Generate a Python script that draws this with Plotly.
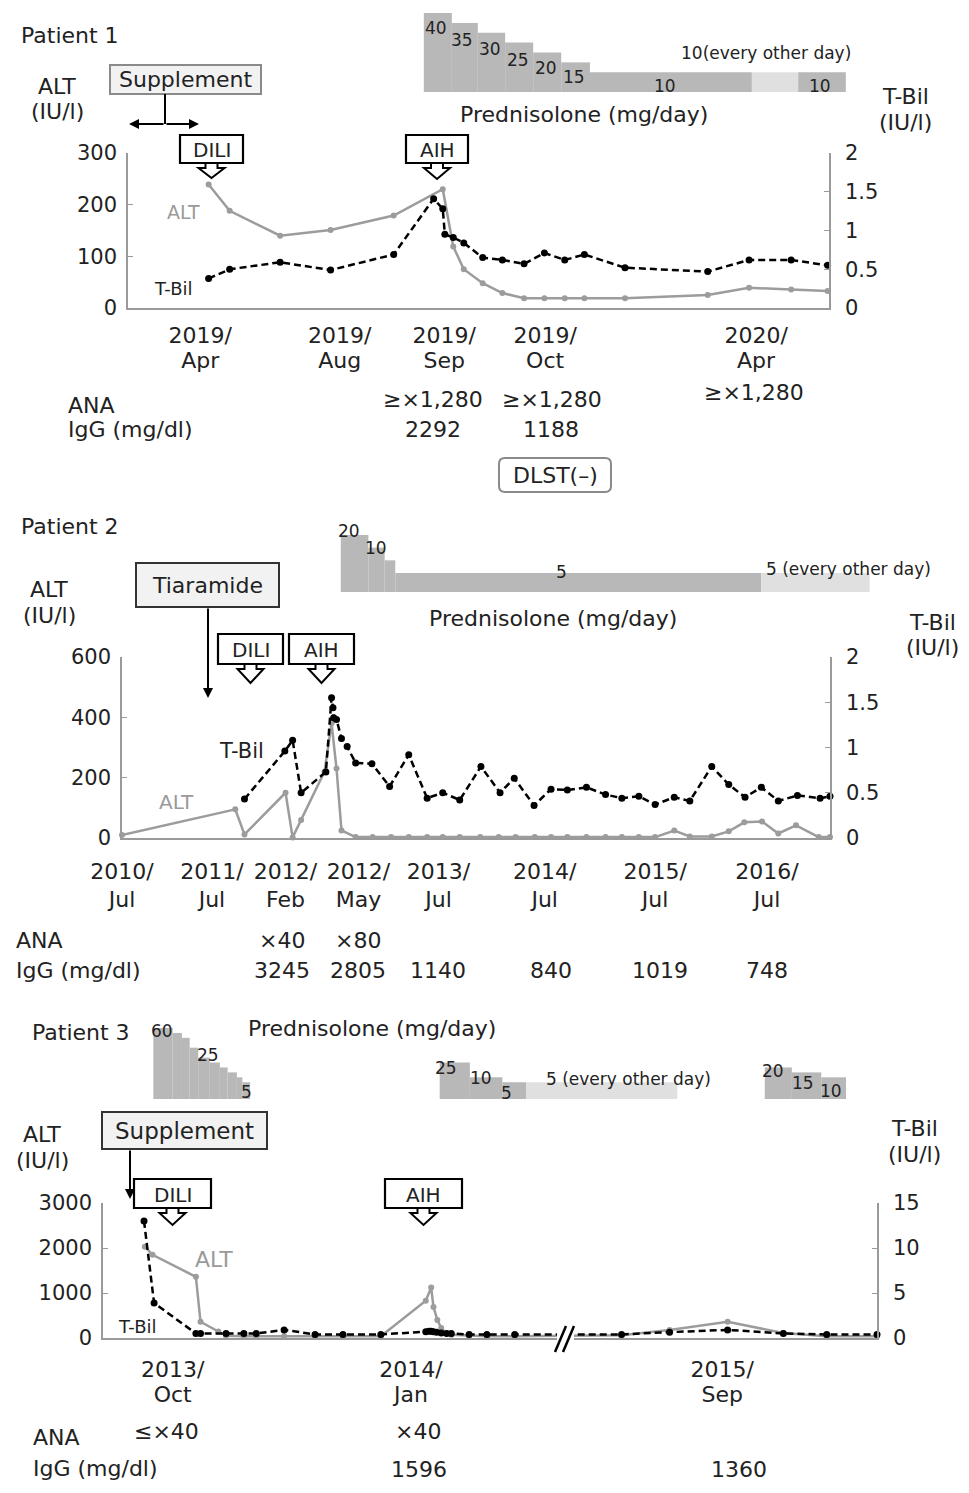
import plotly.graph_objects as go

W, H = 969, 1493

# ---------------- Patient 1 ----------------
p1_alt_x = [11.5, 14.5, 21.7, 28.9, 37.9, 44.9, 46.4, 47.9, 50.6, 53.4, 56.5, 59.4, 62.3, 65.1, 70.9, 82.7, 88.6, 94.6, 99.8]
p1_alt = [239, 188, 140, 151, 179, 230, 119, 75, 48, 29, 19, 19, 19, 19, 19, 25, 39, 36, 33]
p1_tbil_x = [11.5, 14.5, 21.7, 28.9, 37.9, 43.6, 44.9, 45.2, 46.4, 47.9, 50.6, 53.4, 56.5, 59.4, 62.3, 65.1, 70.9, 82.7, 88.6, 94.6, 99.8]
p1_tbil = [0.38, 0.50, 0.59, 0.49, 0.69, 1.41, 1.28, 0.95, 0.91, 0.84, 0.65, 0.62, 0.57, 0.71, 0.62, 0.69, 0.52, 0.47, 0.62, 0.62, 0.55]
p1_tick_pos = [10.3, 30.2, 45.1, 59.5, 89.6]
p1_tick_year = ["2019/", "2019/", "2019/", "2019/", "2020/"]
p1_tick_month = ["Apr", "Aug", "Sep", "Oct", "Apr"]
p1_pred_start = [42.2, 46.2, 49.9, 53.8, 57.8, 61.8, 65.9, 89.0, 95.6]
p1_pred_end = [46.2, 49.9, 53.8, 57.8, 61.8, 65.9, 89.0, 95.6, 102.4]
p1_pred_dose = [40, 35, 30, 25, 20, 15, 10, 10, 10]
p1_pred_eod = [False, False, False, False, False, False, False, True, False]

# ---------------- Patient 2 ----------------
p2_alt_x = [0, 16.0, 17.3, 23.1, 24.1, 25.3, 28.6, 29.6, 30.3, 31.0, 33.0, 35.4, 38.0, 40.5, 43.1, 45.3,
            47.7, 50.6, 53.2, 55.6, 58.3, 60.6, 62.9, 65.6, 68.3, 70.6, 73.0, 75.3, 78.0, 80.2, 83.3,
            85.7, 87.9, 90.4, 92.7, 95.2, 98.4, 100]
p2_alt = [10, 95, 12, 150, 2, 60, 220, 380, 230, 25, 3, 3, 3, 3, 3, 3,
          3, 3, 3, 3, 3, 3, 3, 3, 3, 3, 3, 3, 25, 5, 5,
          22, 52, 55, 15, 42, 3, 3]
p2_tbil_x = [17.3, 23.0, 24.1, 25.3, 28.8, 29.6, 29.8, 29.9, 30.3, 31.0, 31.8, 33.0, 35.3, 37.8, 40.5,
             43.1, 45.3, 47.7, 50.7, 53.4, 55.4, 58.2, 60.6, 62.9, 65.6, 68.3, 70.6, 73.0, 75.3, 78.0,
             80.2, 83.3, 85.7, 88.0, 90.3, 92.7, 95.4, 98.6, 100]
p2_tbil = [0.43, 0.96, 1.08, 0.50, 0.73, 1.55, 1.44, 1.33, 1.31, 1.10, 1.01, 0.83, 0.82, 0.57, 0.92,
           0.44, 0.50, 0.42, 0.79, 0.50, 0.66, 0.36, 0.54, 0.53, 0.56, 0.48, 0.44, 0.46, 0.37, 0.45,
           0.41, 0.79, 0.59, 0.45, 0.56, 0.41, 0.47, 0.44, 0.46]
p2_tick_pos = [0, 12.7, 23.1, 33.4, 44.7, 59.7, 75.3, 91.1]
p2_tick_year = ["2010/", "2011/", "2012/", "2012/", "2013/", "2014/", "2015/", "2016/"]
p2_tick_month = ["Jul", "Jul", "Feb", "May", "Jul", "Jul", "Jul", "Jul"]
p2_pred_start = [30.9, 34.8, 37.1, 38.6, 90.3]
p2_pred_end = [34.8, 37.1, 38.6, 90.3, 105.6]
p2_pred_dose = [20, 15, 10, 5, 5]
p2_pred_eod = [False, False, False, False, True]

# ---------------- Patient 3 ----------------
p3_alt_x = [5.4, 6.4, 12.0, 12.6, 14.9, 15.9, 18.2, 19.8, 23.4, 27.4, 31.0, 35.9, 41.7, 42.4, 42.7, 43.2,
            43.7, 44.4, 45.0, 47.3, 49.6, 53.2, 67.0, 73.2, 80.7, 87.9, 93.5, 100]
p3_alt = [2030, 1850, 1360, 360, 145, 50, 40, 40, 40, 30, 30, 40, 830, 1120, 690, 400,
          220, 110, 70, 50, 40, 40, 60, 180, 360, 110, 40, 40]
p3_tbil_x = [5.3, 6.6, 12.0, 12.6, 15.9, 18.2, 19.8, 23.4, 27.4, 31.0, 35.9, 41.7, 42.1, 42.4, 42.7, 43.1,
             43.7, 44.4, 45.0, 47.3, 49.6, 53.2, 67.0, 73.2, 80.7, 87.9, 93.5, 100]
p3_tbil = [13.0, 3.9, 0.5, 0.5, 0.5, 0.5, 0.5, 0.9, 0.4, 0.4, 0.4, 0.7, 0.75, 0.75, 0.7, 0.65,
           0.55, 0.5, 0.5, 0.4, 0.4, 0.4, 0.4, 0.65, 0.9, 0.5, 0.4, 0.4]
p3_tick_pos = [9.0, 39.8, 80.0]
p3_tick_year = ["2013/", "2014/", "2015/"]
p3_tick_month = ["Oct", "Jan", "Sep"]
p3_pred_start = [6.5, 9.0, 10.2, 11.2, 12.3, 13.8, 15.1, 16.1, 17.3, 18.0,
                 43.5, 47.4, 51.6, 54.7, 85.5, 89.0, 92.8]
p3_pred_end = [9.0, 10.2, 11.2, 12.3, 13.8, 15.1, 16.1, 17.3, 18.0, 19.0,
               47.4, 51.6, 54.7, 74.2, 89.0, 92.8, 96.0]
p3_pred_dose = [60, 55, 50, 40, 30, 25, 20, 15, 10, 5, 25, 10, 5, 5, 20, 15, 10]
p3_pred_eod = [False] * 13 + [True, False, False, False]

FONT = "DejaVu Sans, Liberation Sans, Arial, sans-serif"
TXT = "#222222"
AXC = "#9a9a9a"
ALTC = "#9c9c9c"
DARK = "#b8b8b8"
LIGHT = "#e0e0e0"
FS = 22


def fx(x):
    return x / W


def fy(y):
    return 1 - y / H


panels = [
    dict(alt_x=p1_alt_x, alt=p1_alt, tb_x=p1_tbil_x, tb=p1_tbil, L=128, R=829, B=308, T=153,
         amax=300, atick=[0, 100, 200, 300], tmax=2, ttick=[0, 0.5, 1, 1.5, 2],
         tpos=p1_tick_pos, tyear=p1_tick_year, tmonth=p1_tick_month, so1=7, so2=37,
         ps=p1_pred_start, pe=p1_pred_end, pd=p1_pred_dose, pe_od=p1_pred_eod,
         PB=92, PT=13, poff=0, pmax=40),
    dict(alt_x=p2_alt_x, alt=p2_alt, tb_x=p2_tbil_x, tb=p2_tbil, L=122, R=830, B=838, T=657,
         amax=600, atick=[0, 200, 400, 600], tmax=2, ttick=[0, 0.5, 1, 1.5, 2],
         tpos=p2_tick_pos, tyear=p2_tick_year, tmonth=p2_tick_month, so1=13, so2=46,
         ps=p2_pred_start, pe=p2_pred_end, pd=p2_pred_dose, pe_od=p2_pred_eod,
         PB=592, PT=535, poff=2.5, pmax=20),
    dict(alt_x=p3_alt_x, alt=p3_alt, tb_x=p3_tbil_x, tb=p3_tbil, L=103, R=877, B=1338, T=1203,
         amax=3000, atick=[0, 1000, 2000, 3000], tmax=15, ttick=[0, 5, 10, 15],
         tpos=p3_tick_pos, tyear=p3_tick_year, tmonth=p3_tick_month, so1=11, so2=41,
         ps=p3_pred_start, pe=p3_pred_end, pd=p3_pred_dose, pe_od=p3_pred_eod,
         PB=1099, PT=1028, poff=12, pmax=60),
]

fig = go.Figure()
layout = dict(width=W, height=H, autosize=False, margin=dict(l=0, r=0, t=0, b=0, pad=0, autoexpand=False),
              paper_bgcolor="white", plot_bgcolor="rgba(0,0,0,0)", showlegend=False, barmode="overlay",
              font=dict(family=FONT, color=TXT))


def axname(prefix, i):
    return prefix if i == 1 else prefix + str(i)


for i, p in enumerate(panels):
    xa, xb, xc = 2 * i + 1, 2 * i + 2, 7 + i
    yl, yr, yp = 3 * i + 1, 3 * i + 2, 3 * i + 3
    xref_a = "x" if xa == 1 else "x%d" % xa
    yref_l = "y" if yl == 1 else "y%d" % yl
    ppu = (p["R"] - p["L"]) / 100.0

    # prednisolone bars
    centers = [(s + e) / 2 for s, e in zip(p["ps"], p["pe"])]
    widths = [e - s for s, e in zip(p["ps"], p["pe"])]
    cols = [LIGHT if od else DARK for od in p["pe_od"]]
    fig.add_trace(go.Bar(x=centers, y=[d + p["poff"] for d in p["pd"]], base=-p["poff"], width=widths,
                         marker=dict(color=cols, line=dict(width=0)), xaxis="x%d" % xb, yaxis="y%d" % yp,
                         hoverinfo="skip"))
    # ALT
    fig.add_trace(go.Scatter(x=p["alt_x"], y=p["alt"], mode="lines+markers", xaxis=xref_a, yaxis=yref_l,
                             line=dict(color=ALTC, width=2.5), marker=dict(color=ALTC, size=6),
                             cliponaxis=False))
    # T-Bil
    fig.add_trace(go.Scatter(x=p["tb_x"], y=p["tb"], mode="lines+markers", xaxis=xref_a, yaxis="y%d" % yr,
                             line=dict(color="black", width=2.5, dash="7px,4px"),
                             marker=dict(color="black", size=7, symbol="circle"), cliponaxis=False))
    # empty trace to register month-label axis
    fig.add_trace(go.Scatter(x=[], y=[], xaxis="x%d" % xc, yaxis=yref_l, hoverinfo="skip"))

    tf = dict(size=FS, color=TXT, family=FONT)
    layout[axname("xaxis", xa)] = dict(domain=[fx(p["L"]), fx(p["R"])], range=[0, 100], anchor=yref_l,
                                       automargin=False,
                                       showline=True, linecolor=AXC, linewidth=1.5, showgrid=False,
                                       zeroline=False, ticks="", tickvals=p["tpos"], ticktext=p["tyear"],
                                       tickfont=tf, ticklabelstandoff=p["so1"], fixedrange=True)
    layout["xaxis%d" % xc] = dict(overlaying=xref_a, anchor=yref_l, side="bottom", range=[0, 100],
                                  automargin=False, showline=False, showgrid=False, zeroline=False,
                                  ticks="", tickvals=p["tpos"], ticktext=p["tmonth"], tickfont=tf,
                                  ticklabelstandoff=p["so2"], fixedrange=True)
    layout[axname("yaxis", yl)] = dict(domain=[fy(p["B"]), fy(p["T"])], range=[0, p["amax"]], anchor=xref_a,
                                       automargin=False,
                                       showline=True, linecolor=AXC, linewidth=1.5, showgrid=False,
                                       zeroline=False, ticks="inside", ticklen=5, tickcolor=AXC,
                                       tickvals=p["atick"], tickfont=dict(size=21, color=TXT, family=FONT),
                                       ticklabelstandoff=5)
    layout["yaxis%d" % yr] = dict(overlaying=yref_l, side="right", range=[0, p["tmax"]], anchor=xref_a,
                                  automargin=False,
                                  showline=True, linecolor=AXC, linewidth=1.5, showgrid=False,
                                  zeroline=False, ticks="inside", ticklen=5, tickcolor=AXC,
                                  tickvals=p["ttick"], tickfont=dict(size=21, color=TXT, family=FONT),
                                  ticklabelstandoff=10)
    layout["xaxis%d" % xb] = dict(domain=[fx(p["L"]), 1], range=[0, (W - p["L"]) / ppu], anchor="y%d" % yp,
                                  visible=False, fixedrange=True, automargin=False)
    layout["yaxis%d" % yp] = dict(domain=[fy(p["PB"]), fy(p["PT"])], range=[-p["poff"], p["pmax"]],
                                  anchor="x%d" % xb, visible=False, fixedrange=True, automargin=False)

anns = []
shapes = []


def text(x, y, s, size=FS, color=TXT, xanchor="center", align="center"):
    anns.append(dict(x=fx(x), y=fy(y), xref="paper", yref="paper", text=s, showarrow=False,
                     xanchor=xanchor, yanchor="middle", align=align,
                     font=dict(size=size, color=color, family=FONT)))


def rect(x0, y0, x1, y1, fill, line, lw=2):
    shapes.append(dict(type="rect", xref="paper", yref="paper", x0=fx(x0), x1=fx(x1), y0=fy(y1), y1=fy(y0),
                       fillcolor=fill, line=dict(color=line, width=lw)))


def path(pts, fill=None, line="black", lw=2, close=True):
    d = "M " + " L ".join("%.5f,%.5f" % (fx(a), fy(b)) for a, b in pts)
    if close:
        d += " Z"
    s = dict(type="path", xref="paper", yref="paper", path=d, line=dict(color=line, width=lw))
    if fill:
        s["fillcolor"] = fill
    shapes.append(s)


def callout(x0, y0, x1, y1, label, tip):
    cx = (x0 + x1) / 2
    path([(cx - 6, y1), (cx - 6, y1 + 5), (cx - 13, y1 + 5), (cx, tip), (cx + 13, y1 + 5),
          (cx + 6, y1 + 5), (cx + 6, y1)], fill="white", lw=2)
    rect(x0, y0, x1, y1, "white", "black", 2.2)
    text(cx, (y0 + y1) / 2 + 1, label, size=20)


def arrow(hx, hy, tx, ty, heads=2):
    anns.append(dict(x=fx(hx), y=fy(hy), xref="paper", yref="paper", ax=tx - hx, ay=ty - hy, text="",
                     showarrow=True, arrowhead=heads, arrowsize=1, arrowwidth=2, arrowcolor="black"))


def line(x0, y0, x1, y1, color="black", lw=2):
    shapes.append(dict(type="line", xref="paper", yref="paper", x0=fx(x0), y0=fy(y0), x1=fx(x1), y1=fy(y1),
                       line=dict(color=color, width=lw)))


def axis_titles(lx, ly, rx, ry):
    text(lx, ly, "ALT")
    text(lx, ly + 26, "(IU/l)")
    text(rx, ry, "T-Bil")
    text(rx, ry + 26, "(IU/l)")


# ---------- Patient 1 decorations ----------
text(19, 36, "Patient 1", xanchor="left")
axis_titles(57, 86, 905, 97)
rect(110, 65, 261, 94, "#f2f2f2", "#8a8a8a", 2)
text(185.5, 80, "Supplement", size=22)
line(165, 94, 165, 124)
arrow(129, 124, 165, 124)
arrow(199, 124, 165, 124)
callout(180, 135, 243, 163, "DILI", 178)
callout(406, 135, 468, 163, "AIH", 179)
text(584, 114, "Prednisolone (mg/day)")
for s, x, y in [("40", 436, 28), ("35", 462, 40), ("30", 490, 49), ("25", 518, 60), ("20", 546, 68),
                ("15", 574, 77), ("10", 665, 86), ("10", 820, 86)]:
    text(x, y, s, size=17)
text(766, 53, "10(every other day)", size=17)
text(183, 212, "ALT", size=19, color="#9a9a9a")
text(173, 288, "T-Bil", size=18)
text(66, 406, "ANA", xanchor="left")
text(66, 430, "IgG (mg/dl)", xanchor="left")
text(433, 400, "≥×1,280")
text(552, 400, "≥×1,280")
text(754, 392, "≥×1,280")
text(433, 430, "2292")
text(551, 430, "1188")
r = 6
x0, y0, x1, y1 = 499, 458, 611, 492
shapes.append(dict(type="path", xref="paper", yref="paper", line=dict(color="#8a8a8a", width=2),
                   fillcolor="white",
                   path="M %f,%f L %f,%f Q %f,%f %f,%f L %f,%f Q %f,%f %f,%f L %f,%f Q %f,%f %f,%f L %f,%f Q %f,%f %f,%f Z" % (
                       fx(x0 + r), fy(y0), fx(x1 - r), fy(y0), fx(x1), fy(y0), fx(x1), fy(y0 + r),
                       fx(x1), fy(y1 - r), fx(x1), fy(y1), fx(x1 - r), fy(y1),
                       fx(x0 + r), fy(y1), fx(x0), fy(y1), fx(x0), fy(y1 - r),
                       fx(x0), fy(y0 + r), fx(x0), fy(y0), fx(x0 + r), fy(y0))))
text(555, 476, "DLST(–)")

# ---------- Patient 2 decorations ----------
text(19, 527, "Patient 2", xanchor="left")
axis_titles(49, 590, 932, 622)
rect(136, 563, 279, 607, "#f2f2f2", "#333333", 2)
text(207.5, 586, "Tiaramide")
arrow(208, 698, 208, 607)
callout(218, 634, 283, 664, "DILI", 683)
callout(289, 634, 354, 664, "AIH", 683)
text(553, 619, "Prednisolone (mg/day)")
text(349, 531, "20", size=17)
text(376, 548, "10", size=17)
text(561, 572, "5", size=17)
text(848, 569, "5 (every other day)", size=17)
text(241, 751, "T-Bil", size=21)
text(176, 802, "ALT", size=20, color="#9a9a9a")
text(14, 940, "ANA", xanchor="left")
text(14, 970, "IgG (mg/dl)", xanchor="left")
text(282, 940, "×40")
text(358, 940, "×80")
for s, x in [("3245", 282), ("2805", 358), ("1140", 438), ("840", 551), ("1019", 660), ("748", 767)]:
    text(x, 970, s)

# ---------- Patient 3 decorations ----------
text(30, 1032, "Patient 3", xanchor="left")
text(372, 1028, "Prednisolone (mg/day)")
for s, x, y in [("60", 162, 1031), ("25", 208, 1055), ("5", 246, 1092), ("25", 446, 1068), ("10", 481, 1078),
                ("5", 506, 1093), ("20", 773, 1071), ("15", 803, 1083), ("10", 831, 1091)]:
    text(x, y, s, size=17)
text(628, 1079, "5 (every other day)", size=17)
axis_titles(42, 1134, 914, 1128)
rect(102, 1112, 267, 1149, "#f2f2f2", "#333333", 2)
text(184.5, 1131, "Supplement", size=23)
arrow(130, 1199, 130, 1149)
callout(134, 1179, 211, 1208, "DILI", 1225)
callout(385, 1179, 462, 1208, "AIH", 1225)
text(214, 1259, "ALT", size=22, color="#9a9a9a")
text(137, 1326, "T-Bil", size=18)
rect(557, 1332, 574, 1346, "white", "white", 0)
line(555, 1352, 566, 1326, lw=2.5)
line(563, 1352, 574, 1326, lw=2.5)
text(31, 1437, "ANA", xanchor="left")
text(31, 1468, "IgG (mg/dl)", xanchor="left")
text(166, 1431, "≤×40")
text(418, 1431, "×40")
text(419, 1469, "1596")
text(739, 1469, "1360")

layout["annotations"] = anns
layout["shapes"] = shapes
fig.update_layout(**layout)
fig.write_html("out.html", config={"displayModeBar": False},
               post_script="document.body.style.margin='0px';document.body.style.overflow='hidden';")
